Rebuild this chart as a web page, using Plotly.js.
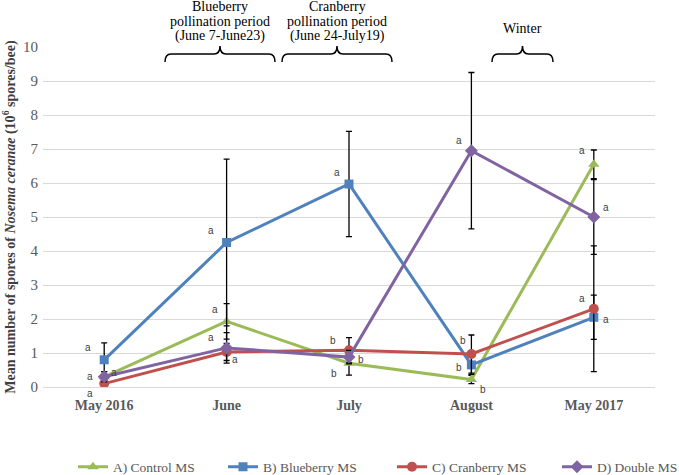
<!DOCTYPE html>
<html>
<head>
<meta charset="utf-8">
<script src="https://cdn.plot.ly/plotly-3.0.1.min.js"></script>
<style>body{margin:0;} #chart{width:679px;height:475px;}</style>
</head>
<body>
<div id="chart"></div>
<script>
// months sampled
var months = ['May 2016', 'June', 'July', 'August', 'May 2017'];

// mean spores (10^6 spores/bee)
var control    = [0.30, 1.93, 0.70, 0.22, 6.55];
var blueberry  = [0.80, 4.25, 5.97, 0.65, 2.05];
var cranberry  = [0.10, 1.03, 1.08, 0.97, 2.30];
var double_ms  = [0.30, 1.15, 0.88, 6.95, 5.00];

// error bars (+/-)
var controlErr   = [0.15, 0.52, 0.35, 0.12, 0.42];
var blueberryErr = [0.50, 2.45, 1.55, 0.28, 0.65];
var cranberryErr = [0.10, 0.25, 0.37, 0.56, 1.85];
var doubleErr    = [0.15, 0.45, 0.20, 2.30, 1.10];

// significance letters
var controlLet   = ['a', 'a', 'b', 'b', 'a'];
var blueberryLet = ['a', 'a', 'a', 'b', 'a'];
var cranberryLet = ['a', 'a', 'b', 'b', 'a'];
var doubleLet    = ['a', 'a', 'b', 'a', 'a'];

// letter offsets in px [xshift, yshift]
var controlOff   = [[10, 4], [-12, 12], [-15, -10], [12, -10], [-12, 14]];
var blueberryOff = [[-16, 12], [-16, 12], [-12, 12], [-12, -3], [12, -2]];
var cranberryOff = [[-14, -10], [8, -8], [-16, 10], [-8, 14], [-12, 10]];
var doubleOff    = [[-14, 0], [-16, 10], [12, -2], [-12, 10], [12, 10]];

var serif = 'Liberation Serif';

function makeTrace(name, y, err, color, symbol, size, leg) {
  return {
    x: months,
    y: y,
    name: name,
    legend: leg,
    type: 'scatter',
    mode: 'lines+markers',
    line: {color: color, width: 3},
    marker: {color: color, symbol: symbol, size: size},
    error_y: {type: 'data', array: err, visible: true, color: '#000', thickness: 1.3, width: 3}
  };
}

var traces = [
  makeTrace('A) Control MS', control, controlErr, '#9BBB59', 'triangle-up', 10, 'legend'),
  makeTrace('B) Blueberry MS', blueberry, blueberryErr, '#4F81BD', 'square', 9, 'legend2'),
  makeTrace('C) Cranberry MS', cranberry, cranberryErr, '#C0504D', 'circle', 10, 'legend3'),
  makeTrace('D) Double MS', double_ms, doubleErr, '#8064A2', 'diamond', 10, 'legend4')
];

var annotations = [];
function addLetters(y, letters, offs) {
  for (var i = 0; i < y.length; i++) {
    annotations.push({
      x: months[i], y: y[i], xref: 'x', yref: 'y',
      text: letters[i], showarrow: false,
      xshift: offs[i][0], yshift: offs[i][1],
      font: {family: 'Liberation Sans', size: 10, color: '#404040'}
    });
  }
}
addLetters(control, controlLet, controlOff);
addLetters(blueberry, blueberryLet, blueberryOff);
addLetters(cranberry, cranberryLet, cranberryOff);
addLetters(double_ms, doubleLet, doubleOff);

// period labels above the plot
var periods = [
  {lines: ['Blueberry', 'pollination period', '(June 7-June23)'], x0: 165, x1: 275},
  {lines: ['Cranberry', 'pollination period', '(June 24-July19)'], x0: 282, x1: 392},
  {lines: ['Winter'], x0: 492, x1: 553}
];

var L = 43, W = 612, B = 387, H = 340;
function px(v) { return (v - L) / W; }
function py(v) { return (B - v) / H; }

var shapes = [];
periods.forEach(function(p) {
  var a = px(p.x0), b = px(p.x1), m = (a + b) / 2;
  var yb = py(62), yt = py(54), ytip = py(46);
  var r = 6 / W;
  var path = 'M ' + a + ',' + yb + ' Q ' + a + ',' + yt + ' ' + (a + r) + ',' + yt +
    ' L ' + (m - r) + ',' + yt + ' Q ' + m + ',' + yt + ' ' + m + ',' + ytip +
    ' Q ' + m + ',' + yt + ' ' + (m + r) + ',' + yt +
    ' L ' + (b - r) + ',' + yt + ' Q ' + b + ',' + yt + ' ' + b + ',' + yb;
  shapes.push({type: 'path', xref: 'paper', yref: 'paper', path: path,
    line: {color: '#000', width: 1.5}});
  var ys = p.lines.length === 1 ? [29] : [7, 21, 36];
  p.lines.forEach(function(t, k) {
    annotations.push({
      xref: 'paper', yref: 'paper', x: m, y: py(ys[k]),
      xanchor: 'center', yanchor: 'middle',
      text: t, showarrow: false,
      font: {family: serif, size: 14, color: '#000'}
    });
  });
});

function legendAt(xpx) {
  return {
    orientation: 'h', x: px(xpx), xanchor: 'left', y: py(467), yanchor: 'middle',
    font: {family: serif, size: 13.5, color: '#595959'},
    itemwidth: 30, bgcolor: 'rgba(0,0,0,0)'
  };
}

var layout = {
  width: 679,
  height: 475,
  margin: {l: 43, r: 24, t: 47, b: 88, autoexpand: false},
  paper_bgcolor: '#fff',
  plot_bgcolor: '#fff',
  font: {family: serif, color: '#595959'},
  showlegend: true,
  legend: legendAt(73),
  legend2: legendAt(223),
  legend3: legendAt(392),
  legend4: legendAt(557),
  xaxis: {
    type: 'category',
    range: [-0.5, 4.5],
    showgrid: false, zeroline: false, showline: false,
    ticks: '',
    ticklabelstandoff: 8,
    tickfont: {family: serif, size: 14, color: '#595959', weight: 'bold'}
  },
  yaxis: {
    range: [0, 10],
    dtick: 1,
    showgrid: true, gridcolor: '#D9D9D9', gridwidth: 1,
    zeroline: true, zerolinecolor: '#D9D9D9', zerolinewidth: 1,
    showline: false,
    ticks: '',
    ticklabelstandoff: 4,
    tickfont: {family: serif, size: 15, color: '#595959'},
    title: {
      text: '<b>Mean number of spores of <i>Nosema ceranae</i> (10<sup>6</sup> spores/bee)</b>',
      font: {family: serif, size: 14, color: '#404040'},
      standoff: 6
    }
  },
  shapes: shapes,
  annotations: annotations
};

Plotly.newPlot('chart', traces, layout, {displayModeBar: false});
</script>
</body>
</html>
